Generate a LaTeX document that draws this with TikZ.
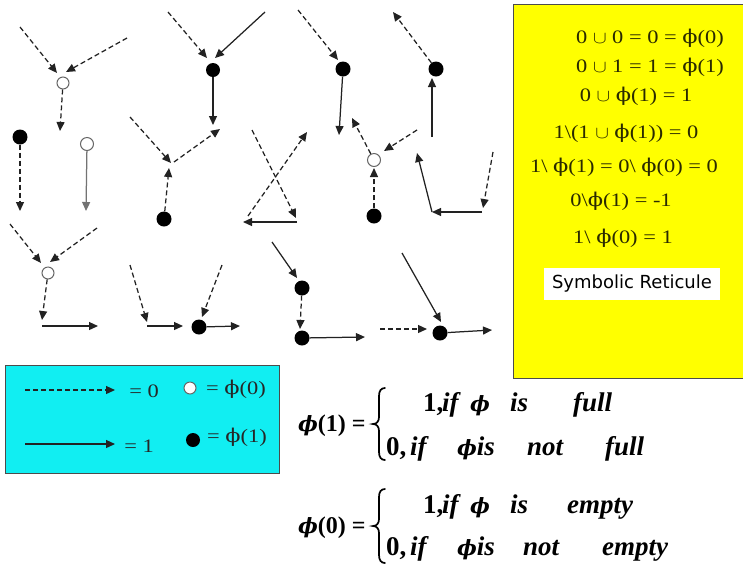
\documentclass[tikz,border=0pt]{standalone}
\usepackage{fontspec}
\setmainfont{Liberation Serif}
\newfontfamily\dvs{DejaVu Serif}
\newfontfamily\lsans{DejaVu Sans}
\usetikzlibrary{arrows.meta}
\definecolor{lncol}{HTML}{222222}
\definecolor{boxcyan}{HTML}{11EEF2}
\definecolor{boxyellow}{HTML}{FFFF00}
\definecolor{txtol}{HTML}{2A2A00}
\newcommand{\phig}{{\dvs ϕ}}
\newcommand{\phib}{{\dvs\bfseries\itshape\fontsize{21}{24}\selectfont ϕ}}
\newcommand{\wide}[1]{\scalebox{1.18}[1]{#1}}
\begin{document}
\begin{tikzpicture}[x=1pt,y=-1pt,
  ln/.style={line width=1.25pt, draw=lncol},
  sol/.style={ln, -{Triangle[length=9pt,width=8pt]}},
  dsh/.style={sol, dash pattern=on 5pt off 3pt},
  fulldot/.style={circle, fill=black, inner sep=0pt, minimum size=15pt},
  emptydot/.style={circle, draw=black!60, line width=1pt, fill=white, inner sep=0pt, minimum size=12pt},
  ytxt/.style={inner sep=0pt, text=txtol, font=\fontsize{19}{21}\selectfont},
  ltxt/.style={inner sep=0pt, text=black!85, font=\fontsize{19}{21}\selectfont},
  ftxt/.style={inner sep=0pt, anchor=base west, font=\fontsize{24}{26}\selectfont\bfseries},
  rtxt/.style={inner sep=0pt, anchor=base west, font=\fontsize{27}{29}\selectfont\bfseries},
  fit/.style={inner sep=0pt, anchor=base west, font=\fontsize{27}{29}\selectfont\bfseries\itshape},
  bracestyle/.style={line width=1.7pt, draw=black, line cap=round},
]
\useasboundingbox (0,0) rectangle (743,566);

% ---------- right yellow box ----------
\node[draw=black!70, line width=1pt, fill=boxyellow, anchor=north west, minimum width=235pt, minimum height=374pt, inner sep=0pt] (yb) at (513,4) {};
\node[ytxt] (y1) at (650,38) {\wide{0 $\cup$ 0 = 0 = \phig(0)}};
\node[ytxt] (y2) at (650,67) {\wide{0 $\cup$ 1 = 1 = \phig(1)}};
\node[ytxt] (y3) at (636,96) {\wide{0 $\cup$ \phig(1) = 1}};
\node[ytxt] (y4) at (626,133) {\wide{1\textbackslash(1 $\cup$ \phig(1)) = 0}};
\node[ytxt] (y5) at (624,167) {\wide{1\textbackslash\ \phig(1) = 0\textbackslash\ \phig(0) = 0}};
\node[ytxt] (y6) at (621,201) {\wide{0\textbackslash\phig(1) = -1}};
\node[ytxt] (y7) at (623,238) {\wide{1\textbackslash\ \phig(0) = 1}};
\node[fill=white, minimum width=176pt, minimum height=32pt, inner sep=0pt, font=\lsans\fontsize{18}{20}\selectfont] (sr) at (632,284) {Symbolic Reticule};

% ---------- legend box ----------
\node[draw=black!70, line width=1pt, fill=boxcyan, anchor=north west, minimum width=274pt, minimum height=108pt, inner sep=0pt] (lg) at (5,365) {};
\coordinate (la1) at (25,390); \coordinate (la1t) at (115,390);
\coordinate (lb1) at (25,444); \coordinate (lb1t) at (115,444);
\draw[dsh] (la1) -- (la1t);
\draw[sol] (lb1) -- (lb1t);
\node[ltxt] (lt0) at (144,391) {\wide{= 0}};
\node[ltxt] (lt1) at (139,446) {\wide{= 1}};
\node[emptydot] (lo) at (190,388) {};
\node[fulldot, minimum size=14pt] (lf) at (193,440) {};
\node[ltxt] (lp0) at (236,389) {\wide{= \phig(0)}};
\node[ltxt] (lp1) at (237,437) {\wide{= \phig(1)}};

% ---------- dots ----------
\node[emptydot] (oA) at (63,83) {};
\node[fulldot] (fB) at (20,137) {};
\node[emptydot, minimum size=13pt] (oB) at (87,144) {};
\node[fulldot, minimum size=14pt] (fC) at (213,70) {};
\node[fulldot] (fD) at (164,219) {};
\node[fulldot] (fF) at (343,69) {};
\node[fulldot] (fG) at (436,69) {};
\node[emptydot, minimum size=13pt] (oH) at (374,160) {};
\node[fulldot] (fH) at (374,216) {};
\node[emptydot] (oJ) at (48,273) {};
\node[fulldot] (fK) at (199,327) {};
\node[fulldot] (fL1) at (302,288) {};
\node[fulldot] (fL2) at (302,338) {};
\node[fulldot] (fM) at (440,333) {};

% ---------- coordinates ----------
\coordinate (a1) at (20,27);  \coordinate (a1t) at (57,73);
\coordinate (a2) at (127,38); \coordinate (a2t) at (66,72);
\coordinate (a3) at (60,131);
\coordinate (b1) at (20,211);
\coordinate (b2) at (86,211);
\coordinate (c1) at (168,12); \coordinate (c1t) at (207,58);
\coordinate (c2) at (265,12); \coordinate (c2t) at (215,58);
\coordinate (c3) at (213,125);
\coordinate (d1) at (130,117); \coordinate (d1t) at (171,163);
\coordinate (d2) at (174,162); \coordinate (d2t) at (220,129);
\coordinate (d3) at (169,168);
\coordinate (e1) at (252,130); \coordinate (e1t) at (296,218);
\coordinate (e2) at (248,216); \coordinate (e2t) at (307,132);
\coordinate (e3) at (297,222); \coordinate (e3t) at (243,222);
\coordinate (f1) at (298,10);  \coordinate (f1t) at (338,60);
\coordinate (f2) at (339,135);
\coordinate (g1) at (393,12);
\coordinate (g2) at (432,137); \coordinate (g2t) at (432,78);
\coordinate (h1) at (352,118);
\coordinate (h2) at (417,130); \coordinate (h2t) at (384,151);
\coordinate (h3) at (374,168);
\coordinate (i1) at (432,212); \coordinate (i1t) at (417,153);
\coordinate (i2) at (482,212);
\coordinate (i3) at (493,152); \coordinate (i3t) at (483,208);
\coordinate (j1) at (10,224);  \coordinate (j1t) at (41,263);
\coordinate (j2) at (97,228);  \coordinate (j2t) at (50,262);
\coordinate (j3) at (42,320);
\coordinate (j4) at (42,326);  \coordinate (j4t) at (98,326);
\coordinate (k1) at (130,265); \coordinate (k1t) at (147,322);
\coordinate (k2) at (147,326); \coordinate (k2t) at (183,326);
\coordinate (k3) at (222,265); \coordinate (k3t) at (202,317);
\coordinate (k4) at (240,326);
\coordinate (l1) at (272,242); \coordinate (l1t) at (297,278);
\coordinate (l2) at (300,329);
\coordinate (l3) at (365,337);
\coordinate (m1) at (380,329); \coordinate (m1t) at (427,329);
\coordinate (m2) at (402,253); \coordinate (m2t) at (441,322);
\coordinate (m3) at (492,330);

% ---------- connectors ----------
\draw[dsh] (a1) -- (a1t);
\draw[dsh] (a2) -- (a2t);
\draw[dsh] (oA) -- (a3);
\draw[dsh] (fB) -- (b1);
\draw[sol, draw=black!55] (oB) -- (b2);
\draw[dsh] (c1) -- (c1t);
\draw[sol] (c2) -- (c2t);
\draw[sol] (fC) -- (c3);
\draw[dsh] (d1) -- (d1t);
\draw[dsh] (d2) -- (d2t);
\draw[dsh] (fD) -- (d3);
\draw[dsh] (e1) -- (e1t);
\draw[dsh] (e2) -- (e2t);
\draw[sol] (e3) -- (e3t);
\draw[dsh] (f1) -- (f1t);
\draw[sol] (fF) -- (f2);
\draw[dsh] (fG) -- (g1);
\draw[sol] (g2) -- (g2t);
\draw[dsh] (oH) -- (h1);
\draw[dsh] (h2) -- (h2t);
\draw[dsh] (fH) -- (h3);
\draw[sol] (i1) -- (i1t);
\draw[sol] (i2) -- (i1);
\draw[dsh] (i3) -- (i3t);
\draw[dsh] (j1) -- (j1t);
\draw[dsh] (j2) -- (j2t);
\draw[dsh] (oJ) -- (j3);
\draw[sol] (j4) -- (j4t);
\draw[dsh] (k1) -- (k1t);
\draw[sol] (k2) -- (k2t);
\draw[dsh] (k3) -- (k3t);
\draw[sol] (fK) -- (k4);
\draw[sol] (l1) -- (l1t);
\draw[dsh] (fL1) -- (l2);
\draw[sol] (fL2) -- (l3);
\draw[dsh] (m1) -- (m1t);
\draw[sol] (m2) -- (m2t);
\draw[sol] (fM) -- (m3);

% ---------- formulas ----------
\node[ftxt] (p1) at (298,431) {\phib(1) =};
\draw[bracestyle] (385,388) .. controls (381,388) and (379,391) .. (379,396) -- (379,417)
  .. controls (379,421) and (377,424) .. (373,424)
  .. controls (377,424) and (379,427) .. (379,431) -- (379,452)
  .. controls (379,457) and (381,460) .. (385,460);
\node[rtxt] (r11) at (423,411) {1,};
\node[fit] (r12) at (442,411) {if};
\node[fit] (r13) at (470,411) {\phib};
\node[fit] (r14) at (510,411) {is};
\node[fit] (r15) at (573,411) {full};
\node[rtxt] (r21) at (386,455) {0,};
\node[fit] (r22) at (410,455) {if};
\node[fit] (r23) at (457,455) {\phib is};
\node[fit] (r24) at (527,455) {not};
\node[fit] (r25) at (605,455) {full};

\node[ftxt] (p0) at (298,533) {\phib(0) =};
\draw[bracestyle] (385,489) .. controls (381,489) and (379,492) .. (379,497) -- (379,519)
  .. controls (379,523) and (377,526) .. (373,526)
  .. controls (377,526) and (379,529) .. (379,533) -- (379,555)
  .. controls (379,560) and (381,563) .. (385,563);
\node[rtxt] (s11) at (423,513) {1,};
\node[fit] (s12) at (442,513) {if};
\node[fit] (s13) at (470,513) {\phib};
\node[fit] (s14) at (510,513) {is};
\node[fit] (s15) at (567,513) {empty};
\node[rtxt] (s21) at (386,555) {0,};
\node[fit] (s22) at (410,555) {if};
\node[fit] (s23) at (457,555) {\phib is};
\node[fit] (s24) at (523,555) {not};
\node[fit] (s25) at (602,555) {empty};
\end{tikzpicture}
\end{document}
